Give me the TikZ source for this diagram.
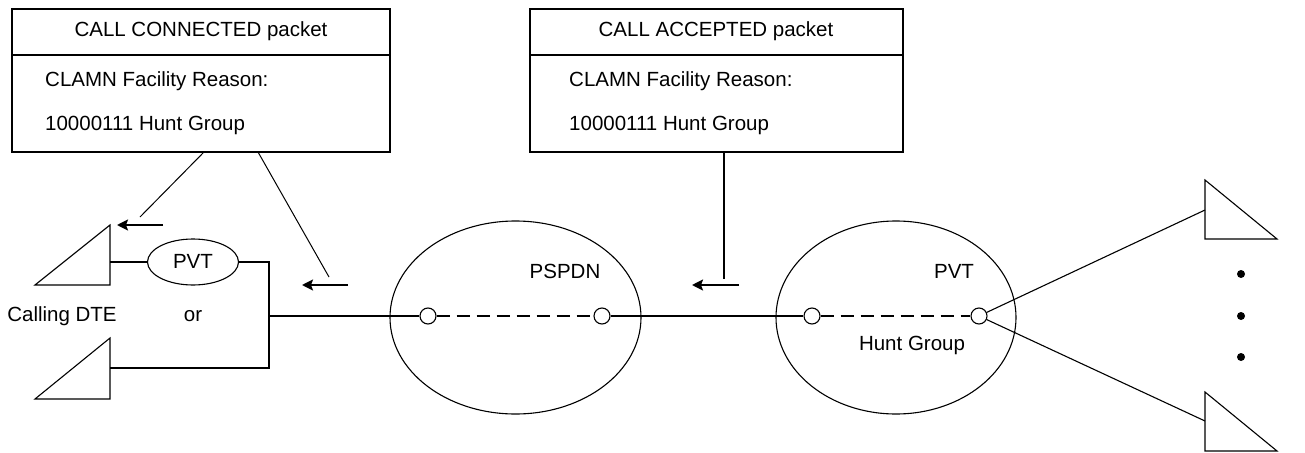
\documentclass[tikz,border=0pt]{standalone}
\usepackage{fontspec}
\setmainfont{Liberation Sans}
\usetikzlibrary{arrows.meta,shapes.geometric}
\begin{document}
\begin{tikzpicture}[x=1pt,y=-1pt,
  every node/.style={font=\fontsize{20.5pt}{24pt}\selectfont, inner sep=0pt},
  boxframe/.style={draw, line width=1.3pt, rectangle, minimum width=378pt, minimum height=143pt},
  mainline/.style={line width=2pt},
  thinline/.style={line width=1pt},
  shapeline/.style={line width=1.1pt},
  msgarrow/.style={line width=2pt, -{Stealth[length=11pt,width=11pt,inset=2pt]}},
  port/.style={circle, draw, fill=white, line width=1.1pt, minimum size=16pt, inner sep=0pt},
  netcloud/.style={ellipse, draw, line width=1.1pt, inner sep=0pt},
  dots/.style={circle, fill=black, minimum size=8pt, inner sep=0pt}
]
\useasboundingbox (0,0) rectangle (1305,452);

% packet boxes
\node[boxframe] (box1) at (201,80.5) {};
\draw[line width=1.3pt] (box1.west |- 0,55) -- (box1.east |- 0,55);
\node (t1) at (201,31) {CALL CONNECTED packet};
\node[anchor=west] (t1a) at (45,81) {CLAMN Facility Reason:};
\node[anchor=west] (t1b) at (45,125) {10000111 Hunt Group};

\node[boxframe, minimum width=373pt] (box2) at (716.5,80.5) {};
\draw[line width=1.3pt] (box2.west |- 0,55) -- (box2.east |- 0,55);
\node (t2) at (716,31) {CALL ACCEPTED packet};
\node[anchor=west] (t2a) at (569,81) {CLAMN Facility Reason:};
\node[anchor=west] (t2b) at (569,125) {10000111 Hunt Group};

% leader lines
\coordinate (la1) at (204,152);
\coordinate (la2) at (140,217);
\coordinate (lb1) at (258,152);
\coordinate (lb2) at (329,277);
\coordinate (lc1) at (724,152);
\coordinate (lc2) at (724,279);
\draw[thinline] (la1) -- (la2);
\draw[thinline] (lb1) -- (lb2);
\draw[mainline] (lc1) -- (lc2);

% message arrows
\coordinate (a1s) at (163,225); \coordinate (a1e) at (117,225);
\coordinate (a2s) at (348,285); \coordinate (a2e) at (302,285);
\coordinate (a3s) at (739,285); \coordinate (a3e) at (692,285);
\draw[msgarrow] (a1s) -- (a1e);
\draw[msgarrow] (a2s) -- (a2e);
\draw[msgarrow] (a3s) -- (a3e);

% calling DTE triangles
\coordinate (d1a) at (35,285); \coordinate (d1b) at (110,225); \coordinate (d1c) at (110,285);
\coordinate (d2a) at (35,399); \coordinate (d2b) at (110,338); \coordinate (d2c) at (110,399);
\draw[shapeline] (d1a) -- (d1b) -- (d1c) -- cycle;
\draw[shapeline] (d2a) -- (d2b) -- (d2c) -- cycle;

% local PVT
\node[netcloud, minimum width=91pt, minimum height=46pt] (pvt1) at (193,262) {};
\node (pvt1t) at (193,261) {PVT};
\coordinate (dte1) at (110,262);
\coordinate (j1) at (269,262);
\coordinate (j2) at (269,316);
\coordinate (j3) at (269,368);
\coordinate (dte2) at (110,368);
\draw[shapeline] (dte1) -- (pvt1.west);
\draw[shapeline] (pvt1.east) -- (j1) -- (j3) -- (dte2);

\node (calling) at (62,316) {Calling DTE};
\node (or) at (193,316) {or};

% PSPDN
\node[netcloud, minimum width=251pt, minimum height=193pt] (pspdn) at (515.5,317.5) {};
\node (pspdnt) at (565,271) {PSPDN};
\node[port] (p1) at (428,316) {};
\node[port] (p2) at (602,316) {};

% Hunt group PVT
\node[netcloud, minimum width=240pt, minimum height=193pt] (pvt2) at (896,317.5) {};
\node (pvt2t) at (954,271) {PVT};
\node (hunt) at (912,345) {Hunt Group};
\node[port] (h1) at (812,316) {};
\node[port] (h2) at (979,316) {};

\draw[mainline] (j2) -- (p1);
\draw[mainline, dash pattern=on 13pt off 7pt] (p1) -- (p2);
\draw[mainline] (p2) -- (h1);
\draw[mainline, dash pattern=on 13pt off 7pt] (h1) -- (h2);

% called DTE triangles
\coordinate (e1a) at (1205,180); \coordinate (e1b) at (1205,239); \coordinate (e1c) at (1277,239);
\coordinate (e2a) at (1205,392); \coordinate (e2b) at (1205,451); \coordinate (e2c) at (1277,451);
\draw[shapeline] (e1a) -- (e1b) -- (e1c) -- cycle;
\draw[shapeline] (e2a) -- (e2b) -- (e2c) -- cycle;
\coordinate (e1m) at (1205,210);
\coordinate (e2m) at (1205,421);
\draw[shapeline] (h2) -- (e1m);
\draw[shapeline] (h2) -- (e2m);

\node[dots] (dt1) at (1241,274) {};
\node[dots] (dt2) at (1241,316) {};
\node[dots] (dt3) at (1241,357) {};
\end{tikzpicture}
\end{document}
